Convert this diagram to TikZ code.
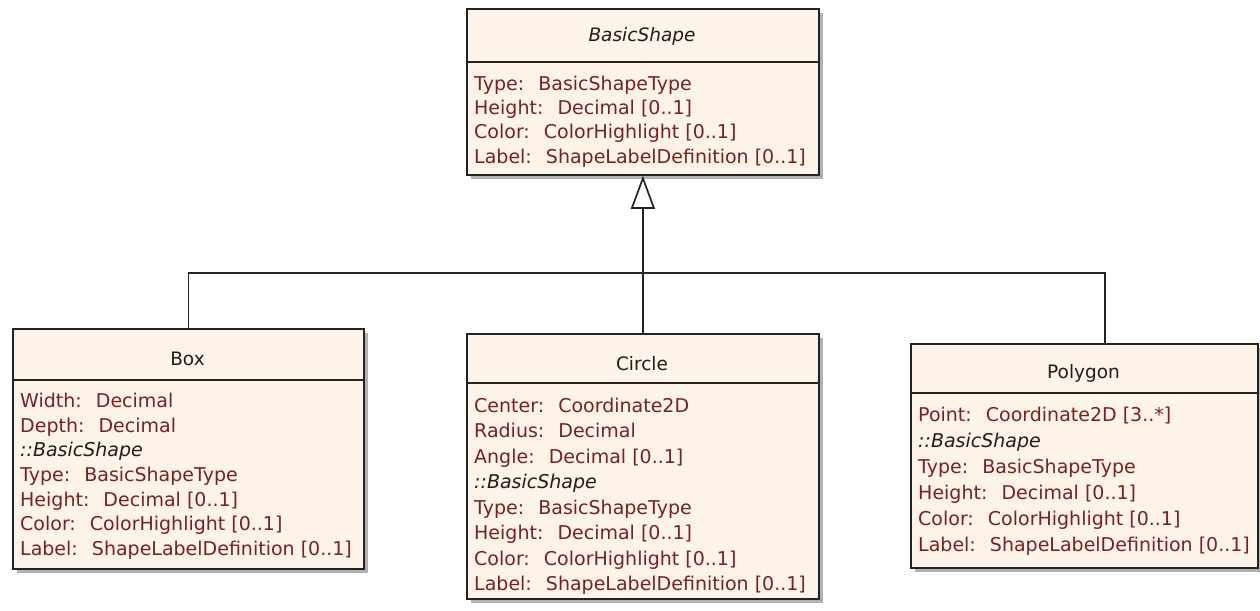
\documentclass[tikz,border=0pt]{standalone}
\usepackage{fontspec}
\setmainfont{DejaVu Sans}
\usetikzlibrary{arrows.meta,shadows}
\definecolor{clsfill}{RGB}{253,243,232}
\definecolor{clsline}{RGB}{35,35,35}
\definecolor{attrred}{RGB}{118,34,34}
\definecolor{titlecol}{RGB}{30,30,30}
\begin{document}
\begin{tikzpicture}[x=1pt,y=-1pt,
  cls/.style={draw=clsline, fill=clsfill, line width=1.8pt, inner sep=0pt, anchor=north west,
    drop shadow={shadow xshift=4pt, shadow yshift=-4pt, fill=black, opacity=0.3}},
  divline/.style={draw=clsline, line width=1.6pt},
  title/.style={font=\fontsize{18.5}{22}\selectfont, text=titlecol, anchor=base, inner sep=0pt},
  attr/.style={font=\fontsize{19}{22}\selectfont, text=attrred, anchor=base west, inner sep=0pt},
  inh/.style={font=\fontsize{19}{22}\selectfont\itshape, text=titlecol, anchor=base west, inner sep=0pt},
  conn/.style={draw=clsline, line width=1.7pt}
]
\useasboundingbox[fill=white] (0,0) rectangle (1260,610);

% classes
\node[cls, minimum width=352pt, minimum height=166pt] (basic) at (466,8) {};
\node[cls, minimum width=351pt, minimum height=240pt] (box) at (12,328) {};
\node[cls, minimum width=352pt, minimum height=265pt] (circle) at (466,333) {};
\node[cls, minimum width=347pt, minimum height=224pt] (poly) at (910,343) {};

\draw[divline] ([yshift=-54pt]basic.north west) -- ([yshift=-54pt]basic.north east);
\draw[divline] ([yshift=-52pt]box.north west) -- ([yshift=-52pt]box.north east);
\draw[divline] ([yshift=-50pt]circle.north west) -- ([yshift=-50pt]circle.north east);
\draw[divline] ([yshift=-50pt]poly.north west) -- ([yshift=-50pt]poly.north east);

% titles
\node[title, font=\fontsize{18.5}{22}\selectfont\itshape] (tbasic) at (642,42) {BasicShape};
\node[title] (tbox) at (187.5,365) {Box};
\node[title] (tcircle) at (642,370) {Circle};
\node[title] (tpoly) at (1083.5,378) {Polygon};

% BasicShape attributes
\node[attr] (b1) at (474,90) {Type:~ BasicShapeType};
\node[attr] (b2) at (474,114) {Height:~ Decimal [0..1]};
\node[attr] (b3) at (474,138.5) {Color:~ ColorHighlight [0..1]};
\node[attr] (b4) at (474,163) {Label:~ ShapeLabelDefinition [0..1]};

% Box attributes
\node[attr] (x1) at (20,407) {Width:~ Decimal};
\node[attr] (x2) at (20,432) {Depth:~ Decimal};
\node[inh] (x3) at (20,456.5) {::BasicShape};
\node[attr] (x4) at (20,481) {Type:~ BasicShapeType};
\node[attr] (x5) at (20,506) {Height:~ Decimal [0..1]};
\node[attr] (x6) at (20,530) {Color:~ ColorHighlight [0..1]};
\node[attr] (x7) at (20,555) {Label:~ ShapeLabelDefinition [0..1]};

% Circle attributes
\node[attr] (c1) at (474,412) {Center:~ Coordinate2D};
\node[attr] (c2) at (474,437.5) {Radius:~ Decimal};
\node[attr] (c3) at (474,463) {Angle:~ Decimal [0..1]};
\node[inh] (c4) at (474,488.5) {::BasicShape};
\node[attr] (c5) at (474,514) {Type:~ BasicShapeType};
\node[attr] (c6) at (474,539.5) {Height:~ Decimal [0..1]};
\node[attr] (c7) at (474,565) {Color:~ ColorHighlight [0..1]};
\node[attr] (c8) at (474,590.5) {Label:~ ShapeLabelDefinition [0..1]};

% Polygon attributes
\node[attr] (p1) at (918,421) {Point:~ Coordinate2D [3..*]};
\node[inh] (p2) at (918,447) {::BasicShape};
\node[attr] (p3) at (918,473) {Type:~ BasicShapeType};
\node[attr] (p4) at (918,499) {Height:~ Decimal [0..1]};
\node[attr] (p5) at (918,525) {Color:~ ColorHighlight [0..1]};
\node[attr] (p6) at (918,551) {Label:~ ShapeLabelDefinition [0..1]};

% connectors
\coordinate (jbox) at ([yshift=55pt]box.north);
\coordinate (jpoly) at (1105,273);
\draw[conn] (box.north) -- (jbox) -- (jpoly) -- (jpoly |- poly.north);
\draw[conn, -{Triangle[open, length=33pt, width=24pt, fill=white]}] (circle.north) -- (basic.south);
\end{tikzpicture}
\end{document}
